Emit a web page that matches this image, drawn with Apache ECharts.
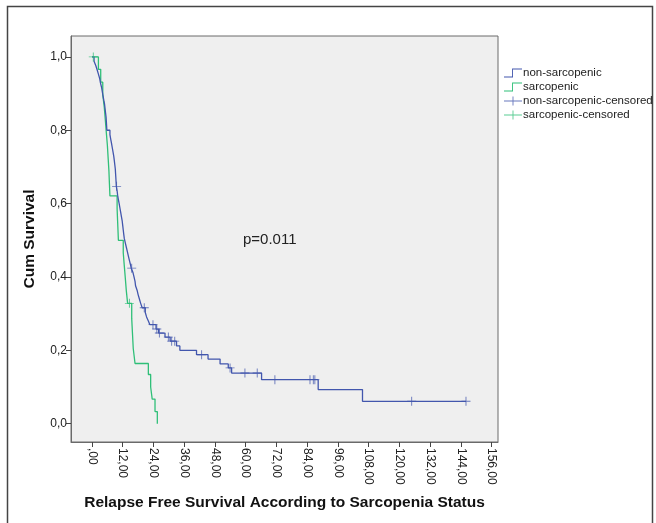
<!DOCTYPE html>
<html><head><meta charset="utf-8">
<script src="https://cdn.jsdelivr.net/npm/echarts@6/dist/echarts.min.js"></script>
<style>html,body{margin:0;padding:0;background:#fff}#c{width:656px;height:523px}</style>
</head><body><div id="c"></div>
<script>
// Non-sarcopenic KM curve (time, cumulative survival)
const nonSarcTime = [0,0.8,1.5,2.0,2.5,3.0,3.3,3.7,4.0,4.3,4.6,4.9,5.1,5.3,5.5,5.6,5.7,5.8,7.0,7.3,7.6,7.9,8.2,8.5,8.7,8.9,9.1,9.2,9.3,9.4,9.5,9.8,10.0,10.3,10.6,10.9,11.2,11.5,11.8,12.0,12.2,12.4,12.6,13.0,13.4,13.8,14.2,14.6,15.0,15.3,16.0,16.4,16.8,17.0,17.6,18.0,18.5,19.0,19.6,20.8,21.3,22.0,22.6,25.0,26.0,28.5,30.5,33.0,34.3,40.8,45.3,50.0,53.2,54.5,66.2,88.3,105.6,146];
const nonSarcSurv = [1,0.988,0.976,0.965,0.953,0.941,0.929,0.918,0.906,0.894,0.882,0.871,0.859,0.847,0.835,0.824,0.812,0.8,0.788,0.776,0.765,0.753,0.741,0.729,0.718,0.706,0.694,0.682,0.671,0.659,0.647,0.635,0.623,0.611,0.6,0.588,0.576,0.564,0.552,0.54,0.528,0.516,0.505,0.493,0.481,0.469,0.457,0.445,0.434,0.424,0.412,0.4,0.388,0.376,0.364,0.352,0.34,0.328,0.316,0.303,0.291,0.28,0.27,0.258,0.247,0.236,0.225,0.212,0.2,0.188,0.176,0.163,0.152,0.138,0.12,0.093,0.061,0.061];
// Sarcopenic KM curve
const sarcTime = [0,2.5,3.4,4.2,4.8,5.2,5.6,6.0,6.3,6.6,6.8,7.0,9.8,10.0,10.3,12.2,12.6,13.0,13.4,13.9,15.5,15.8,16.1,16.8,22.0,22.9,23.5,24.6,25.5];
const sarcSurv = [1,0.966,0.931,0.897,0.862,0.828,0.793,0.759,0.724,0.69,0.655,0.621,0.586,0.552,0.5,0.466,0.431,0.397,0.362,0.328,0.287,0.246,0.205,0.164,0.134,0.1,0.067,0.033,0];
// Censored observations
const nonSarcCensTime = [9.6,15.5,20.4,23.8,25.3,26.3,29.8,31.1,32.3,42.8,53.9,59.7,64.5,71.4,85.1,86.4,87.0,124.8,146];
const nonSarcCensSurv = [0.647,0.424,0.316,0.27,0.258,0.247,0.236,0.225,0.225,0.188,0.152,0.138,0.138,0.12,0.12,0.12,0.12,0.061,0.061];
const sarcCensTime = [0.5,14.6];
const sarcCensSurv = [1,0.328];
// Axis ticks
const xTicks = [0,12,24,36,48,60,72,84,96,108,120,132,144,156];
const yTicks = [0,0.2,0.4,0.6,0.8,1.0];
const seriesNames = ['non-sarcopenic','sarcopenic','non-sarcopenic-censored','sarcopenic-censored'];

const BLUE = '#4256ad', GREEN = '#2fbf78';
const zip = (a,b) => a.map((v,i) => [v,b[i]]);
const FONT = 'Liberation Sans, Arial, sans-serif';
const plus = 'path://M4.5,0h1v4.5h4.5v1h-4.5v4.5h-1v-4.5h-4.5v-1h4.5z';
const stepIcon = 'path://M0,9h9v-9h11v1h-10v9h-10z';
const plusIcon = 'path://M0,4.5h9.5v-4.5h1v4.5h9.5v1h-9.5v4.5h-1v-4.5h-9.5z';

const chart = echarts.init(document.getElementById('c'));
chart.setOption({
  backgroundColor: '#fff',
  animation: false,
  textStyle: {fontFamily: FONT},
  grid: {left: 71, top: 36, right: 158, bottom: 81, show: true, backgroundColor: '#efefef', borderColor: '#6a6a6a', borderWidth: 1},
  legend: {
    orient: 'vertical', left: 499, top: 62, itemWidth: 18, itemHeight: 10, itemGap: 2,
    textStyle: {fontSize: 11.5, color: '#222', fontFamily: FONT, padding: [0,0,0,-4]},
    data: [
      {name: seriesNames[0], icon: stepIcon, itemStyle: {color: BLUE}},
      {name: seriesNames[1], icon: stepIcon, itemStyle: {color: GREEN}},
      {name: seriesNames[2], icon: plusIcon, itemStyle: {color: BLUE}},
      {name: seriesNames[3], icon: plusIcon, itemStyle: {color: GREEN}}
    ]
  },
  xAxis: {
    type: 'value', min: -8.2, max: 158.5,
    name: 'Relapse Free Survival According to Sarcopenia Status', nameLocation: 'middle', nameGap: 53,
    nameTextStyle: {fontSize: 15.5, fontWeight: 'bold', color: '#111', fontFamily: FONT},
    axisLine: {show: true, onZero: false, lineStyle: {color: '#6a6a6a'}},
    axisTick: {show: true, length: 5, customValues: xTicks, lineStyle: {color: '#444'}},
    axisLabel: {customValues: xTicks, rotate: -90, fontSize: 12, color: '#222', margin: 6,
      formatter: v => (v === 0 ? '' : String(v)) + ',00'},
    splitLine: {show: false}
  },
  yAxis: {
    type: 'value', min: -0.05, max: 1.057,
    name: 'Cum Survival', nameLocation: 'middle', nameGap: 33,
    nameTextStyle: {fontSize: 15.5, fontWeight: 'bold', color: '#111', fontFamily: FONT},
    axisLine: {show: true, onZero: false, lineStyle: {color: '#6a6a6a'}},
    axisTick: {show: true, length: 5, customValues: yTicks, lineStyle: {color: '#444'}},
    axisLabel: {customValues: yTicks, fontSize: 12, color: '#222', margin: 4,
      formatter: v => v.toFixed(1).replace('.', ',')},
    splitLine: {show: false}
  },
  series: [
    {name: seriesNames[0], type: 'line', step: 'end', symbol: 'none', data: zip(nonSarcTime, nonSarcSurv), lineStyle: {color: BLUE, width: 1.3}, itemStyle: {color: BLUE}, z: 3},
    {name: seriesNames[1], type: 'line', step: 'end', symbol: 'none', data: zip(sarcTime, sarcSurv), lineStyle: {color: GREEN, width: 1.3}, itemStyle: {color: GREEN}, z: 2},
    {name: seriesNames[2], type: 'scatter', symbol: plus, symbolSize: 9, data: zip(nonSarcCensTime, nonSarcCensSurv), itemStyle: {color: BLUE}, z: 4},
    {name: seriesNames[3], type: 'scatter', symbol: plus, symbolSize: 9, data: zip(sarcCensTime, sarcCensSurv), itemStyle: {color: GREEN}, z: 4}
  ],
  graphic: [
    {type: 'rect', left: 5, top: 4, shape: {width: 645, height: 540}, style: {fill: 'none', stroke: '#444', lineWidth: 1.5}, silent: true},
    {type: 'text', left: 243, top: 232, style: {text: 'p=0.011', font: '15px ' + FONT, fill: '#222'}}
  ]
});
</script></body></html>
